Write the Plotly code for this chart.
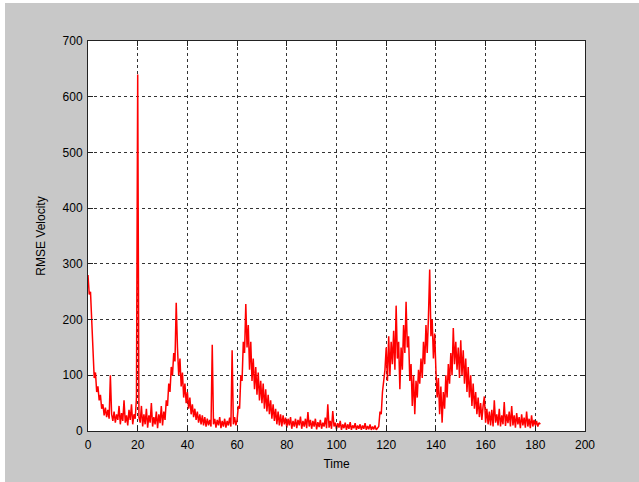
import numpy as np
import plotly.graph_objects as go

# sample grid (s), one reading every half second
t_step = 0.5

# RMSE velocity, 10 s per row
rmse_0_40 = [
    280, 245, 250, 195, 120, 95, 105, 70, 80, 55, 65, 40, 48, 28, 42, 25, 38, 22, 100, 30,
    18, 35, 15, 30, 20, 45, 12, 32, 18, 55, 15, 28, 10, 38, 20, 48, 12, 30, 22, 60,
    640, 25, 15, 45, 8, 30, 12, 40, 6, 28, 15, 50, 8, 25, 12, 35, 5, 30, 14, 45,
    10, 35, 20, 55, 45, 85, 70, 115, 100, 140, 125, 230, 150, 100, 130, 80, 105, 60, 85, 50,
]
rmse_40_80 = [
    70, 40, 60, 30, 48, 25, 40, 20, 35, 15, 30, 12, 28, 10, 25, 8, 22, 10, 20, 8,
    155, 12, 22, 6, 20, 10, 25, 5, 18, 8, 22, 6, 18, 10, 24, 8, 145, 12, 25, 10,
    20, 45, 40, 100, 90, 160, 140, 228, 150, 190, 110, 160, 90, 130, 75, 115, 65, 105, 55, 90,
    50, 85, 40, 75, 35, 65, 30, 55, 22, 48, 18, 40, 12, 35, 10, 30, 8, 28, 12, 24,
]
rmse_80_120 = [
    6, 22, 10, 25, 4, 18, 8, 22, 5, 20, 10, 26, 4, 18, 8, 22, 5, 34, 8, 20,
    4, 18, 8, 22, 3, 16, 7, 20, 4, 15, 8, 24, 5, 48, 6, 18, 4, 36, 8, 15,
    3, 14, 6, 18, 2, 12, 5, 15, 2, 12, 4, 16, 2, 10, 5, 14, 2, 10, 4, 12,
    2, 10, 4, 14, 2, 9, 3, 12, 2, 8, 3, 10, 2, 6, 8, 35, 30, 70, 90, 110,
]
rmse_120_160 = [
    150, 90, 170, 100, 160, 120, 180, 110, 225, 130, 160, 75, 150, 110, 190, 140, 232, 150, 170, 90,
    120, 45, 100, 30, 90, 60, 110, 85, 130, 95, 160, 120, 190, 140, 205, 290, 170, 200, 130, 175,
    110, 60, 95, 30, 80, 15, 70, 40, 100, 60, 120, 85, 140, 100, 185, 120, 160, 110, 150, 95,
    163, 100, 145, 85, 130, 70, 115, 60, 100, 45, 85, 40, 70, 30, 60, 25, 50, 20, 45, 62,
]
rmse_160_182 = [
    15, 40, 12, 35, 10, 38, 8, 55, 15, 30, 10, 40, 8, 28, 12, 52, 9, 30, 14, 35,
    8, 45, 10, 28, 6, 32, 12, 25, 5, 30, 10, 24, 6, 35, 8, 22, 5, 28, 8, 20,
    10, 18, 8, 15, 12,
]

rmse = rmse_0_40 + rmse_40_80 + rmse_80_120 + rmse_120_160 + rmse_160_182
time = np.arange(len(rmse)) * t_step

x_ticks = [0, 20, 40, 60, 80, 100, 120, 140, 160, 180, 200]
y_ticks = [0, 100, 200, 300, 400, 500, 600, 700]

fig = go.Figure()
fig.add_trace(go.Scatter(x=time, y=rmse, mode="lines",
                         line=dict(color="#ff0000", width=1.5)))

# thin white strips on the top and left edge of the window
fig.add_shape(type="rect", xref="paper", yref="paper",
              x0=-88/497, x1=(639-88)/497, y0=1+38/390, y1=1+41/390,
              fillcolor="white", line_width=0, layer="below")
fig.add_shape(type="rect", xref="paper", yref="paper",
              x0=-88/497, x1=-83/497, y0=-51/390, y1=1+41/390,
              fillcolor="white", line_width=0, layer="below")

font = dict(family="Liberation Sans, Arial, sans-serif", size=12, color="black")
axis_style = dict(
    showline=True, linecolor="#222222", linewidth=1, mirror="allticks",
    ticks="inside", ticklen=5, tickcolor="#222222",
    showgrid=True, gridcolor="#333333", gridwidth=1, griddash="3px,3px",
    zeroline=False, tickfont=font, title_font=font,
)

fig.update_xaxes(range=[0, 200], tickvals=x_ticks, title_text="Time",
                 ticklabelstandoff=3, title_standoff=8, **axis_style)
fig.update_yaxes(range=[0, 700], tickvals=y_ticks, title_text="RMSE Velocity",
                 ticklabelstandoff=2, title_standoff=14, **axis_style)

fig.update_layout(
    width=639, height=482, autosize=False,
    margin=dict(l=88, r=54, t=41, b=51),
    paper_bgcolor="#c8c8c8", plot_bgcolor="white",
    showlegend=False,
)

fig.write_html("out.html", config={"displayModeBar": False},
               post_script="document.body.style.margin='0';")
